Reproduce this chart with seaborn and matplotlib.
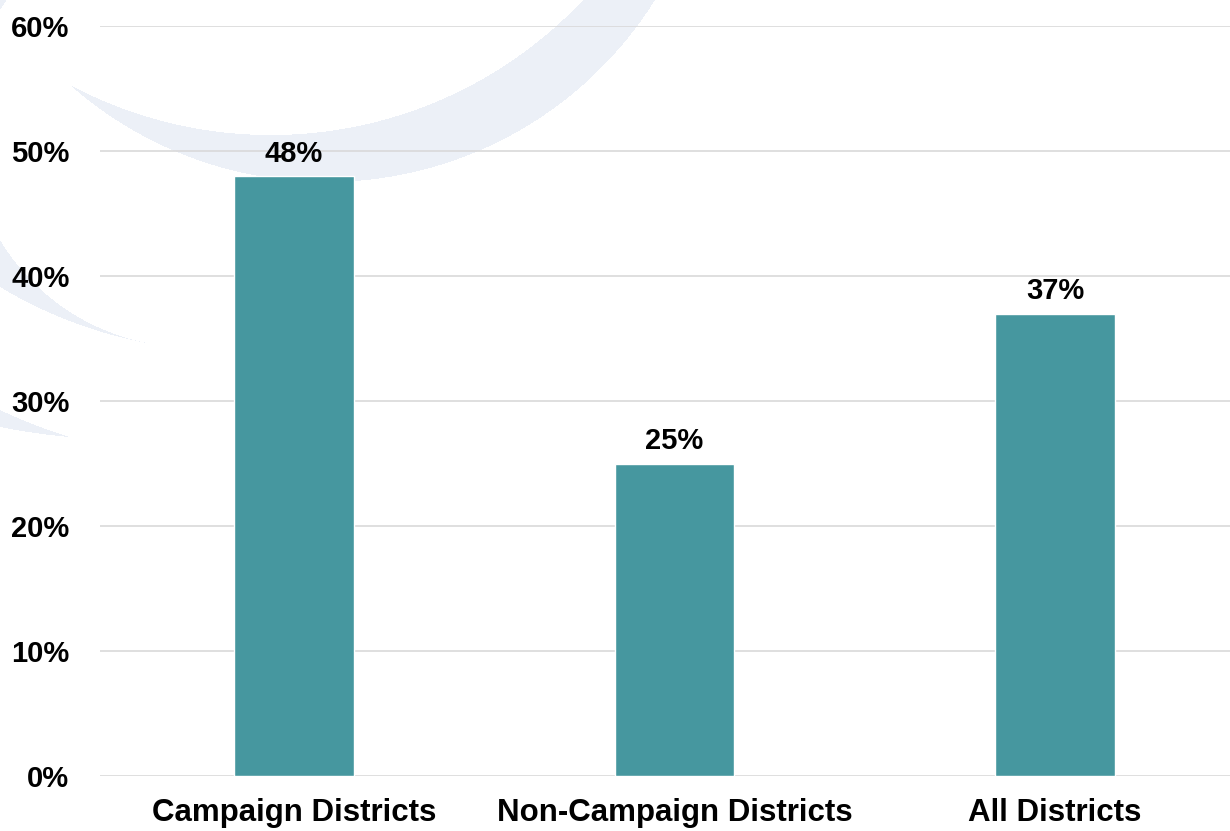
import numpy as np
import matplotlib
matplotlib.use("Agg")
import matplotlib.pyplot as plt
import seaborn as sns
import pandas as pd

categories = ["Campaign Districts", "Non-Campaign Districts", "All Districts"]
values = [48, 25, 37]
y_ticks = [0, 10, 20, 30, 40, 50, 60]

bar_color = "#46979F"
swoosh_color = (236 / 255, 240 / 255, 247 / 255)

sns.set_style("white")
plt.rcParams["font.family"] = ["Liberation Sans", "DejaVu Sans"]
plt.rcParams["font.weight"] = "bold"
plt.rcParams["text.color"] = "black"
plt.rcParams["xtick.color"] = "black"
plt.rcParams["ytick.color"] = "black"


def circle_from(p1, p2, p3):
    # circle through three points
    (x1, y1), (x2, y2), (x3, y3) = p1, p2, p3
    a = np.array([[x2 - x1, y2 - y1], [x3 - x2, y3 - y2]], dtype=float) * 2
    b = np.array([x2**2 - x1**2 + y2**2 - y1**2, x3**2 - x2**2 + y3**2 - y2**2], dtype=float)
    h, k = np.linalg.solve(a, b)
    r = np.hypot(x1 - h, y1 - k)
    return h, k, r


def crescent(xx, yy, outer, inner, xmax=None):
    ho, ko, ro = circle_from(*outer)
    hi, ki, ri = circle_from(*inner)
    m = ((xx - ho) ** 2 + (yy - ko) ** 2 <= ro**2) & ((xx - hi) ** 2 + (yy - ki) ** 2 > ri**2)
    if xmax is not None:
        m &= xx <= xmax
    return m


W, H = 1230, 831
fig = plt.figure(figsize=(W / 100, H / 100), dpi=100)

# decorative background swooshes (pixel coords, y down)
bg = fig.add_axes([0, 0, 1, 1], zorder=0)
xx, yy = np.meshgrid(np.arange(W) + 0.5, np.arange(H) + 0.5)
mask = crescent(xx, yy, [(70, 85), (330, 182), (655, 0)], [(70, 85), (527, 50), (583, 0)], xmax=700)
mask |= crescent(xx, yy, [(0, 287), (67, 320), (147, 343)], [(0, 240), (67, 310), (147, 343)], xmax=147)
mask |= crescent(xx, yy, [(0, 427), (35, 433), (70, 437)], [(0, 410), (35, 425), (70, 437)], xmax=70)
img = np.ones((H, W, 4))
img[..., :3] = swoosh_color
img[..., 3] = mask.astype(float)
bg.imshow(img, extent=(0, W, H, 0), interpolation="bilinear")
bg.set_xlim(0, W)
bg.set_ylim(H, 0)
bg.axis("off")

ax = fig.add_axes([100 / W, 55 / H, 1 - 100 / W, (776 - 26) / H], zorder=1)
ax.patch.set_alpha(0)

df = pd.DataFrame({"category": categories, "value": values})
sns.barplot(data=df, x="category", y="value", color=bar_color, width=0.315,
            saturation=1, ax=ax, zorder=3)

for c in ax.containers:
    ax.bar_label(c, labels=[f"{v:.0f}%" for v in values], padding=6,
                 fontsize=21, fontweight="bold", color="black")

ax.set_ylim(0, 60)
ax.set_xlim(-0.51, 2.46)
ax.set_yticks(y_ticks)
ax.set_yticklabels([f"{t}%" for t in y_ticks])
ax.yaxis.grid(True, color="#D9D9D9", linewidth=1.2, zorder=0)
ax.set_axisbelow(True)
for s in ax.spines.values():
    s.set_visible(False)
ax.tick_params(axis="y", length=0, pad=22, labelsize=21, labelcolor="black")
ax.tick_params(axis="x", length=0, pad=16, labelsize=22.5, labelcolor="black")
ax.set_xlabel("")
ax.set_ylabel("")

fig.savefig("out.png", dpi=100)
